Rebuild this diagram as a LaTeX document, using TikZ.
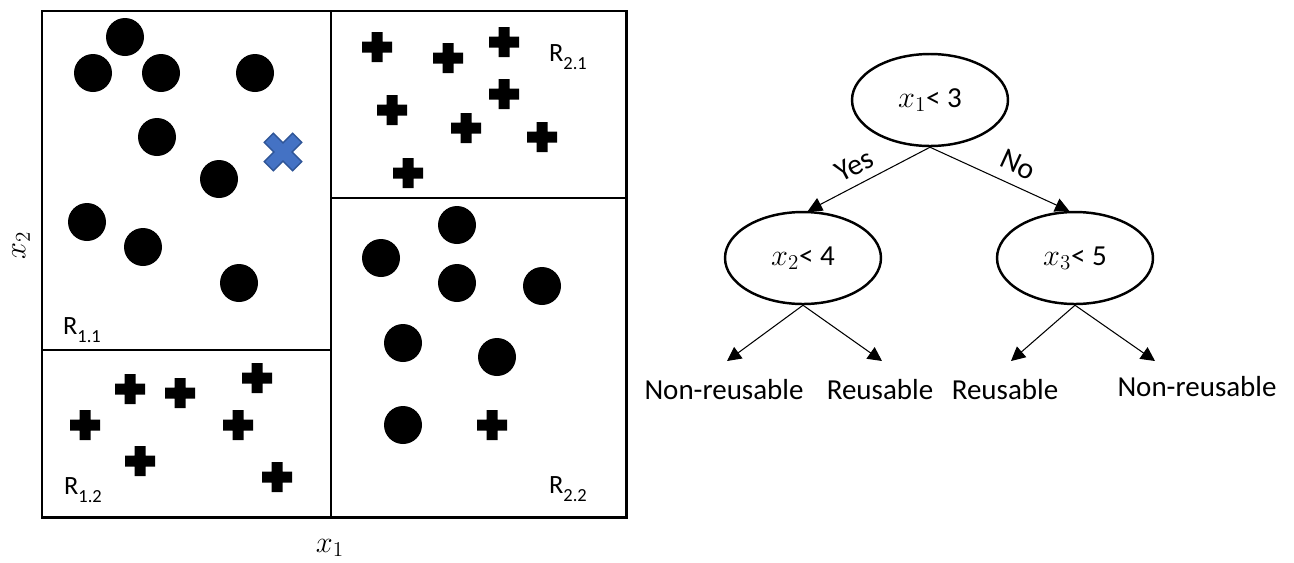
\documentclass[tikz,border=0pt]{standalone}
\usepackage{fontspec}
\setmainfont{Carlito}
\usetikzlibrary{arrows.meta,shapes.geometric}
\definecolor{xblue}{HTML}{4472C4}
\definecolor{xblueb}{HTML}{2F5597}
\tikzset{
  plusm/.pic={\fill[black] (-5.5,-15) -- (5.5,-15) -- (5.5,-5.5) -- (15,-5.5) -- (15,5.5) -- (5.5,5.5) -- (5.5,15) -- (-5.5,15) -- (-5.5,5.5) -- (-15,5.5) -- (-15,-5.5) -- (-5.5,-5.5) -- cycle;},
  dotm/.style={fill=black},
  outerbox/.style={line width=1.7pt},
  divider/.style={line width=0.85pt},
  tnode/.style={ellipse,draw,line width=1.4pt,minimum width=3.12cm,minimum height=1.84cm,inner sep=0pt,font=\fontsize{16.5}{19}\selectfont},
  tarrow/.style={line width=0.6pt,-{Triangle[length=8pt,width=8pt]}},
  leaf/.style={font=\fontsize{16.5}{20}\selectfont,inner sep=0pt},
  rlab/.style={font=\fontsize{15}{18}\selectfont,inner sep=0pt},
  elab/.style={font=\fontsize{17}{20}\selectfont,inner sep=0pt},
  axlab/.style={font=\fontsize{18}{22}\selectfont,inner sep=0pt}
}
\newcommand{\Rsub}[1]{R\raisebox{-0.28em}{\fontsize{10.5}{12}\selectfont #1}}
\begin{document}
\begin{tikzpicture}[x=0.02cm,y=-0.02cm]
\useasboundingbox (0,0) rectangle (1294,562);
% partition
\draw[divider] (331,11) -- (331,517);
\draw[divider] (42,350) -- (331,350);
\draw[divider] (331,198) -- (626,198);
\draw[outerbox] (42,11) rectangle (626,517);
% region labels
\node[rlab] (r11) at (82,330) {\Rsub{1.1}};
\node[rlab] (r12) at (83,490) {\Rsub{1.2}};
\node[rlab] (r21) at (568,57) {\Rsub{2.1}};
\node[rlab] (r22) at (568,489) {\Rsub{2.2}};
% axis labels
\node[axlab] (ax1) at (330,548) {$x_1$};
\node[axlab,rotate=90] (ax2) at (21,245) {$x_2$};
% circles
\foreach \p in {(125,37),(93,73),(161,73),(255,73),(157,137),(219,179),(87,222),(143,247),(239,283),
                (457,225),(381,258),(457,283),(542,286),(403,343),(497,357),(403,425)}
  \fill[dotm] \p circle[radius=19];
% pluses
\foreach \p in {(377,47),(448,58),(504,42),(392,110),(504,94),(466,128),(542,137),(408,173),
                (85,425),(130,389),(180,393),(257,378),(238,425),(140,461),(277,477),(492,425)}
  \pic at \p {plusm};
% blue cross
\filldraw[fill=xblue,draw=xblueb,line width=0.8pt,rotate around={45:(283,152)}]
  (283-6.5,152-20) -- (283+6.5,152-20) -- (283+6.5,152-6.5) -- (283+20,152-6.5) -- (283+20,152+6.5)
  -- (283+6.5,152+6.5) -- (283+6.5,152+20) -- (283-6.5,152+20) -- (283-6.5,152+6.5) -- (283-20,152+6.5)
  -- (283-20,152-6.5) -- (283-6.5,152-6.5) -- cycle;
% tree
\node[tnode] (root) at (930,100) {$x_1$< 3};
\node[tnode] (l) at (803,258) {$x_2$< 4};
\node[tnode] (r) at (1075,258) {$x_3$< 5};
\draw[tarrow] (root.south) -- node[elab,sloped,above=5pt,pos=0.55] {Yes} (l.84);
\draw[tarrow] (root.south) -- node[elab,sloped,above=6pt,pos=0.57] {No} (r.97);
\coordinate (t1) at (727,361);
\coordinate (t2) at (882,361);
\coordinate (t3) at (1011,361);
\coordinate (t4) at (1155,361);
\draw[tarrow] (l.south) -- (t1);
\draw[tarrow] (l.south) -- (t2);
\draw[tarrow] (r.south) -- (t3);
\draw[tarrow] (r.south) -- (t4);
\node[leaf] (n1) at (724,390) {Non-reusable};
\node[leaf] (n2) at (880,390) {Reusable};
\node[leaf] (n3) at (1005,390) {Reusable};
\node[leaf] (n4) at (1197,387) {Non-reusable};
\end{tikzpicture}
\end{document}
